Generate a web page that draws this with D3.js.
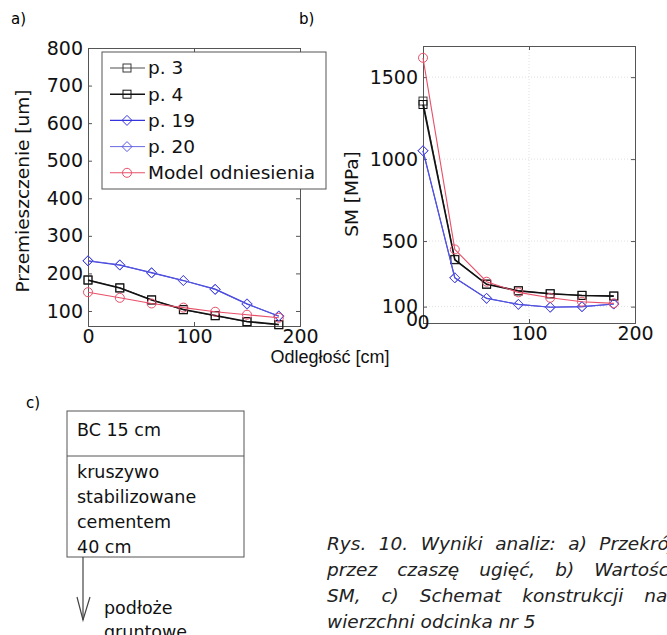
<!DOCTYPE html>
<html>
<head>
<meta charset="utf-8">
<script src="https://cdn.jsdelivr.net/npm/d3@7"></script>
<style>
  body { margin: 0; background: #fff; }
  svg { display: block; font-family: "DejaVu Sans", sans-serif; }
</style>
</head>
<body>
<svg id="chart" width="667" height="635"></svg>
<script>
// distances along the profile [cm]
var distances = [0, 30, 60, 90, 120, 150, 180];

// a) displacement [um]
var dispP3 = [183, 162, 130, 103, 87, 71, 63];
var dispP4 = [182, 161, 129, 104, 88, 72, 64];
var dispP19 = [233, 222, 202, 181, 158, 119, 86];
var dispP20 = [234, 223, 201, 181, 157, 118, 87];
var dispModel = [150, 135, 120, 109, 98, 90, 82];

// b) SM [MPa]
var smP3 = [1354, 388, 238, 197, 179, 169, 165];
var smP4 = [1333, 386, 236, 196, 178, 168, 164];
var smP19 = [1051, 276, 150, 114, 96, 100, 116];
var smP20 = [1050, 275, 151, 113, 97, 99, 115];
var smModel = [1618, 449, 252, 187, 154, 130, 120];

var xTicks = [0, 100, 200];
var yTicksA = [100, 200, 300, 400, 500, 600, 700, 800];
var yTicksB = [0, 100, 500, 1000, 1500];

var seriesNames = ["p. 3", "p. 4", "p. 19", "p. 20", "Model odniesienia"];
var seriesColors = ["#3a3a3a", "#111111", "#3434dc", "#5a5ae0", "#e8506a"];
var seriesWidths = [0.9, 1.6, 1.2, 0.9, 1.1];
var seriesMarkers = ["square", "square", "diamond", "diamond", "circle"];

var captionLines = [
  "Rys. 10. Wyniki analiz: a) Przekrój",
  "przez czaszę ugięć, b) Wartości",
  "SM, c) Schemat konstrukcji na-",
  "wierzchni odcinka nr 5"
];
var layerTop = ["BC 15 cm"];
var layerBase = ["kruszywo", "stabilizowane", "cementem", "40 cm"];
var subgrade = ["podłoże", "gruntowe"];

var svg = d3.select("#chart");

function drawMarker(g, type, x, y, color) {
  if (type === "square") {
    g.append("rect").attr("x", x - 4).attr("y", y - 4).attr("width", 8).attr("height", 8)
      .attr("fill", "none").attr("stroke", color).attr("stroke-width", 1);
  } else if (type === "diamond") {
    g.append("path").attr("d", `M${x},${y - 5}L${x + 5},${y}L${x},${y + 5}L${x - 5},${y}Z`)
      .attr("fill", "none").attr("stroke", color).attr("stroke-width", 1);
  } else {
    g.append("circle").attr("cx", x).attr("cy", y).attr("r", 4.5)
      .attr("fill", "none").attr("stroke", color).attr("stroke-width", 1);
  }
}

function drawPanel(opts) {
  var g = svg.append("g");
  var x = d3.scaleLinear().domain([0, 200]).range([opts.left, opts.right]);
  var y = d3.scaleLinear().domain(opts.yDomain).range([opts.bottom, opts.top]);

  if (opts.grid) {
    var grid = g.append("g").attr("stroke", "#d8d8d8").attr("stroke-dasharray", "1,2").attr("stroke-width", 0.8);
    opts.yTicks.filter((t) => t > 0).forEach((t) => {
      grid.append("line").attr("x1", opts.left).attr("x2", opts.right).attr("y1", y(t)).attr("y2", y(t));
    });
    grid.append("line").attr("x1", x(100)).attr("x2", x(100)).attr("y1", opts.top).attr("y2", opts.bottom);
  }

  // axes with inward ticks
  g.append("g").attr("transform", `translate(${opts.left},0)`)
    .call(d3.axisLeft(y).tickValues(opts.yTicks).tickSize(-4).tickPadding(5).tickFormat(d3.format("d")));
  g.append("g").attr("transform", `translate(${opts.right},0)`)
    .call(d3.axisRight(y).tickValues(opts.yTicks).tickSize(-4).tickFormat(""));
  g.append("g").attr("transform", `translate(0,${opts.bottom})`)
    .call(d3.axisBottom(x).tickValues(xTicks).tickSize(-4).tickPadding(3).tickFormat(d3.format("d")));
  g.append("g").attr("transform", `translate(0,${opts.top})`)
    .call(d3.axisTop(x).tickValues(xTicks).tickSize(-4).tickFormat(""));

  g.selectAll(".domain").attr("stroke", "#555");
  g.selectAll(".tick line").attr("stroke", "#555");
  g.selectAll(".tick text").attr("fill", "#111").style("font-size", "19px")
    .style("font-family", "'DejaVu Sans', sans-serif");

  var line = d3.line().x((d, i) => x(distances[i])).y((d) => y(d));
  opts.series.forEach((vals, s) => {
    g.append("path").datum(vals).attr("d", line).attr("fill", "none")
      .attr("stroke", seriesColors[s]).attr("stroke-width", seriesWidths[s]);
    vals.forEach((v, i) => drawMarker(g, seriesMarkers[s], x(distances[i]), y(v), seriesColors[s]));
  });

  g.append("text").attr("transform", `translate(${opts.ylabelX},${opts.ylabelY}) rotate(-90)`)
    .attr("text-anchor", "middle").style("font-size", "18.5px").attr("fill", "#111").text(opts.ylabel);
  return g;
}

drawPanel({
  left: 88, right: 300, top: 48, bottom: 326,
  yDomain: [60, 800], yTicks: yTicksA, grid: false,
  series: [dispP3, dispP4, dispP19, dispP20, dispModel],
  ylabel: "Przemieszczenie [um]", ylabelX: 29, ylabelY: 191
});

var gb = drawPanel({
  left: 423, right: 635, top: 46, bottom: 323,
  yDomain: [0, 1690], yTicks: yTicksB, grid: true,
  series: [smP3, smP4, smP19, smP20, smModel],
  ylabel: "SM [MPa]", ylabelX: 358, ylabelY: 194
});
gb.selectAll(".tick text").filter((d) => d === 0).attr("dy", "0.15em");

// legend
var legend = svg.append("g");
legend.append("rect").attr("x", 102).attr("y", 52).attr("width", 224).attr("height", 137)
  .attr("fill", "#fff").attr("stroke", "#555").attr("stroke-width", 1);
seriesNames.forEach((name, s) => {
  var ly = 68 + s * 26.2;
  legend.append("line").attr("x1", 110).attr("x2", 145).attr("y1", ly).attr("y2", ly)
    .attr("stroke", seriesColors[s]).attr("stroke-width", seriesWidths[s]);
  drawMarker(legend, seriesMarkers[s], 127, ly, seriesColors[s]);
  legend.append("text").attr("x", 148).attr("y", ly).attr("dy", "0.35em")
    .style("font-size", "18.5px").attr("fill", "#111").text(name);
});

svg.append("text").attr("x", 330).attr("y", 363).attr("text-anchor", "middle")
  .style("font-family", "'Liberation Sans', Arial, sans-serif")
  .style("font-size", "18px").attr("fill", "#111").text("Odległość [cm]");

// panel labels
svg.append("text").attr("x", 11).attr("y", 24).style("font-size", "15px").text("a)");
svg.append("text").attr("x", 299).attr("y", 24).style("font-size", "15px").text("b)");
svg.append("text").attr("x", 26).attr("y", 408).style("font-size", "15px").text("c)");

// c) pavement structure
var gc = svg.append("g");
gc.append("rect").attr("x", 67).attr("y", 411).attr("width", 177).attr("height", 146)
  .attr("fill", "none").attr("stroke", "#555").attr("stroke-width", 1);
gc.append("line").attr("x1", 67).attr("x2", 244).attr("y1", 456).attr("y2", 456)
  .attr("stroke", "#555").attr("stroke-width", 1);
layerTop.forEach((t, i) => {
  gc.append("text").attr("x", 77).attr("y", 436 + i * 25).style("font-size", "17.5px").attr("fill", "#111").text(t);
});
layerBase.forEach((t, i) => {
  gc.append("text").attr("x", 77).attr("y", 478 + i * 25).style("font-size", "17.5px").attr("fill", "#111").text(t);
});
gc.append("line").attr("x1", 83).attr("x2", 83).attr("y1", 557).attr("y2", 620)
  .attr("stroke", "#444").attr("stroke-width", 1.2);
gc.append("path").attr("d", "M77,597L83,620L90,597").attr("fill", "none")
  .attr("stroke", "#444").attr("stroke-width", 1.2);
subgrade.forEach((t, i) => {
  gc.append("text").attr("x", 104).attr("y", 614 + i * 24).style("font-size", "17.5px").attr("fill", "#111").text(t);
});

// caption, justified lines except the last one
var capX = 327, capW = 347, capSize = "18.5px";
captionLines.forEach((ln, i) => {
  var ty = 550 + i * 26;
  if (i === captionLines.length - 1) {
    svg.append("text").attr("x", capX).attr("y", ty).style("font-size", capSize)
      .style("font-style", "italic").attr("fill", "#222").text(ln);
    return;
  }
  var words = ln.split(" ");
  var widths = words.map((w) => {
    var tmp = svg.append("text").style("font-size", capSize).style("font-style", "italic").text(w);
    var wd = tmp.node().getComputedTextLength();
    tmp.remove();
    return wd;
  });
  var gap = (capW - d3.sum(widths)) / (words.length - 1);
  var cx = capX;
  words.forEach((w, k) => {
    svg.append("text").attr("x", cx).attr("y", ty).style("font-size", capSize).style("font-style", "italic")
      .attr("fill", "#222").text(w);
    cx += widths[k] + gap;
  });
});
</script>
</body>
</html>
